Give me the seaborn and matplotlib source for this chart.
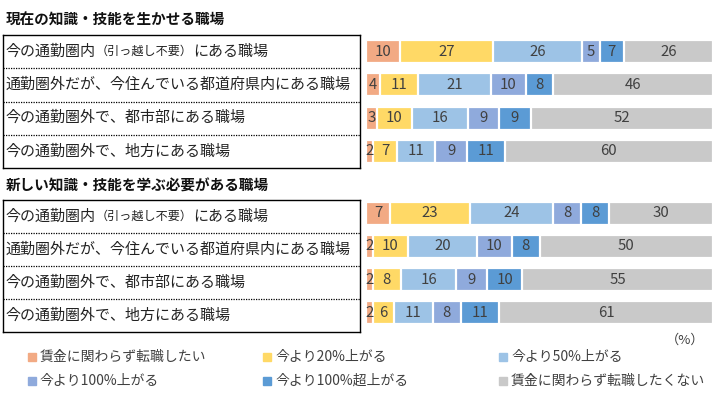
import numpy as np
import pandas as pd
import matplotlib
matplotlib.use("Agg")
import matplotlib.pyplot as plt
from matplotlib.patches import Rectangle
import seaborn as sns

# Data
categories = [
    "今の通勤圏内（引っ越し不要）にある職場",
    "通勤圏外だが、今住んでいる都道府県内にある職場",
    "今の通勤圏外で、都市部にある職場",
    "今の通勤圏外で、地方にある職場",
]
series = [
    "賃金に関わらず転職したい",
    "今より20%上がる",
    "今より50%上がる",
    "今より100%上がる",
    "今より100%超上がる",
    "賃金に関わらず転職したくない",
]
colors = ["#F2AA84", "#FFD966", "#9DC3E6", "#8FAADC", "#5B9BD5", "#C9C9C9"]

panel_titles = ["現在の知識・技能を生かせる職場", "新しい知識・技能を学ぶ必要がある職場"]
# rows = categories, columns = series
values_current = [
    [10, 27, 26, 5, 7, 26],
    [4, 11, 21, 10, 8, 46],
    [3, 10, 16, 9, 9, 52],
    [2, 7, 11, 9, 11, 60],
]
values_new = [
    [7, 23, 24, 8, 8, 30],
    [2, 10, 20, 10, 8, 50],
    [2, 8, 16, 9, 10, 55],
    [2, 6, 11, 8, 11, 61],
]

W, H = 717, 393
plt.rcParams["font.family"] = ["Noto Sans CJK JP", "DejaVu Sans"]
fig = plt.figure(figsize=(W / 100, H / 100), dpi=100)


def fx(px):
    return px / W


def fy(py):
    return 1 - py / H


def draw_labels(ax):
    ax.set_xlim(0, 1)
    ax.set_ylim(3.5, -0.5)
    ax.set_xticks([])
    ax.set_yticks([])
    for s in ax.spines.values():
        s.set_linewidth(1.0)
        s.set_color("black")
    for y in [0.5, 1.5, 2.5]:
        ax.axhline(y, color="black", lw=0.9, ls=(0, (1, 1)))
    for i, cat in enumerate(categories):
        if "（" in cat:
            a, rest = cat.split("（")
            b, c = rest.split("）")
            t1 = ax.text(0.008, i, a, fontsize=10.8, va="center", color="#222222")
            t2 = ax.annotate("（" + b + "）", xy=(1, 0.5), xycoords=t1, fontsize=8.7,
                             va="center", color="#222222")
            ax.annotate(c, xy=(1, 0.5), xycoords=t2, fontsize=10.8,
                        va="center", color="#222222")
        else:
            ax.text(0.008, i, cat, fontsize=10.8, va="center", color="#222222")


def draw_bars(ax, values):
    vals = np.array(values, dtype=float)
    pct = vals / vals.sum(axis=1, keepdims=True) * 100
    cum = np.cumsum(pct, axis=1)
    df = pd.DataFrame(cum, columns=series)
    df["category"] = categories
    # draw cumulative bars from the longest to the shortest
    for j in range(len(series) - 1, -1, -1):
        sns.barplot(data=df, x=series[j], y="category", order=categories,
                    orient="h", color=colors[j], width=0.69, edgecolor="white",
                    linewidth=1.6, saturation=1, ax=ax)
    for i in range(len(categories)):
        for j in range(len(series)):
            xc = cum[i, j] - pct[i, j] / 2
            ax.text(xc, i, f"{int(vals[i, j])}", ha="center", va="center",
                    fontsize=10.8, color="#404040")
    ax.set_xlim(0, 100)
    ax.set_ylim(3.5, -0.5)
    ax.set_axis_off()


# panel layout in pixels: (box top, box bottom, bar top, bar bottom, title y)
layouts = [(35, 168, 35, 168, 20), (200, 332, 196.5, 329.5, 186)]
for (bt, bb, rt, rb, ty), title, values in zip(layouts, panel_titles,
                                               [values_current, values_new]):
    fig.text(fx(6), fy(ty), title, fontsize=10.5, fontweight="bold",
             va="center", color="#111111")
    ax_lab = fig.add_axes([fx(3), fy(bb), fx(360) - fx(3), (bb - bt) / H])
    draw_labels(ax_lab)
    ax_bar = fig.add_axes([fx(366), fy(rb), fx(713) - fx(366), (rb - rt) / H])
    draw_bars(ax_bar, values)

fig.text(fx(685), fy(340), "（%）", fontsize=9.5, ha="center", va="center",
         color="#404040")

# legend
leg_x = [28, 263, 499]
leg_y = [357, 381]
for k, (name, col) in enumerate(zip(series, colors)):
    px = leg_x[k % 3]
    py = leg_y[k // 3]
    fig.add_artist(Rectangle((fx(px), fy(py + 4)), 8 / W, 8 / H, color=col,
                             transform=fig.transFigure))
    fig.text(fx(px + 12), fy(py), name, fontsize=10, va="center",
             color="#404040")

fig.savefig("out.png", dpi=100)
